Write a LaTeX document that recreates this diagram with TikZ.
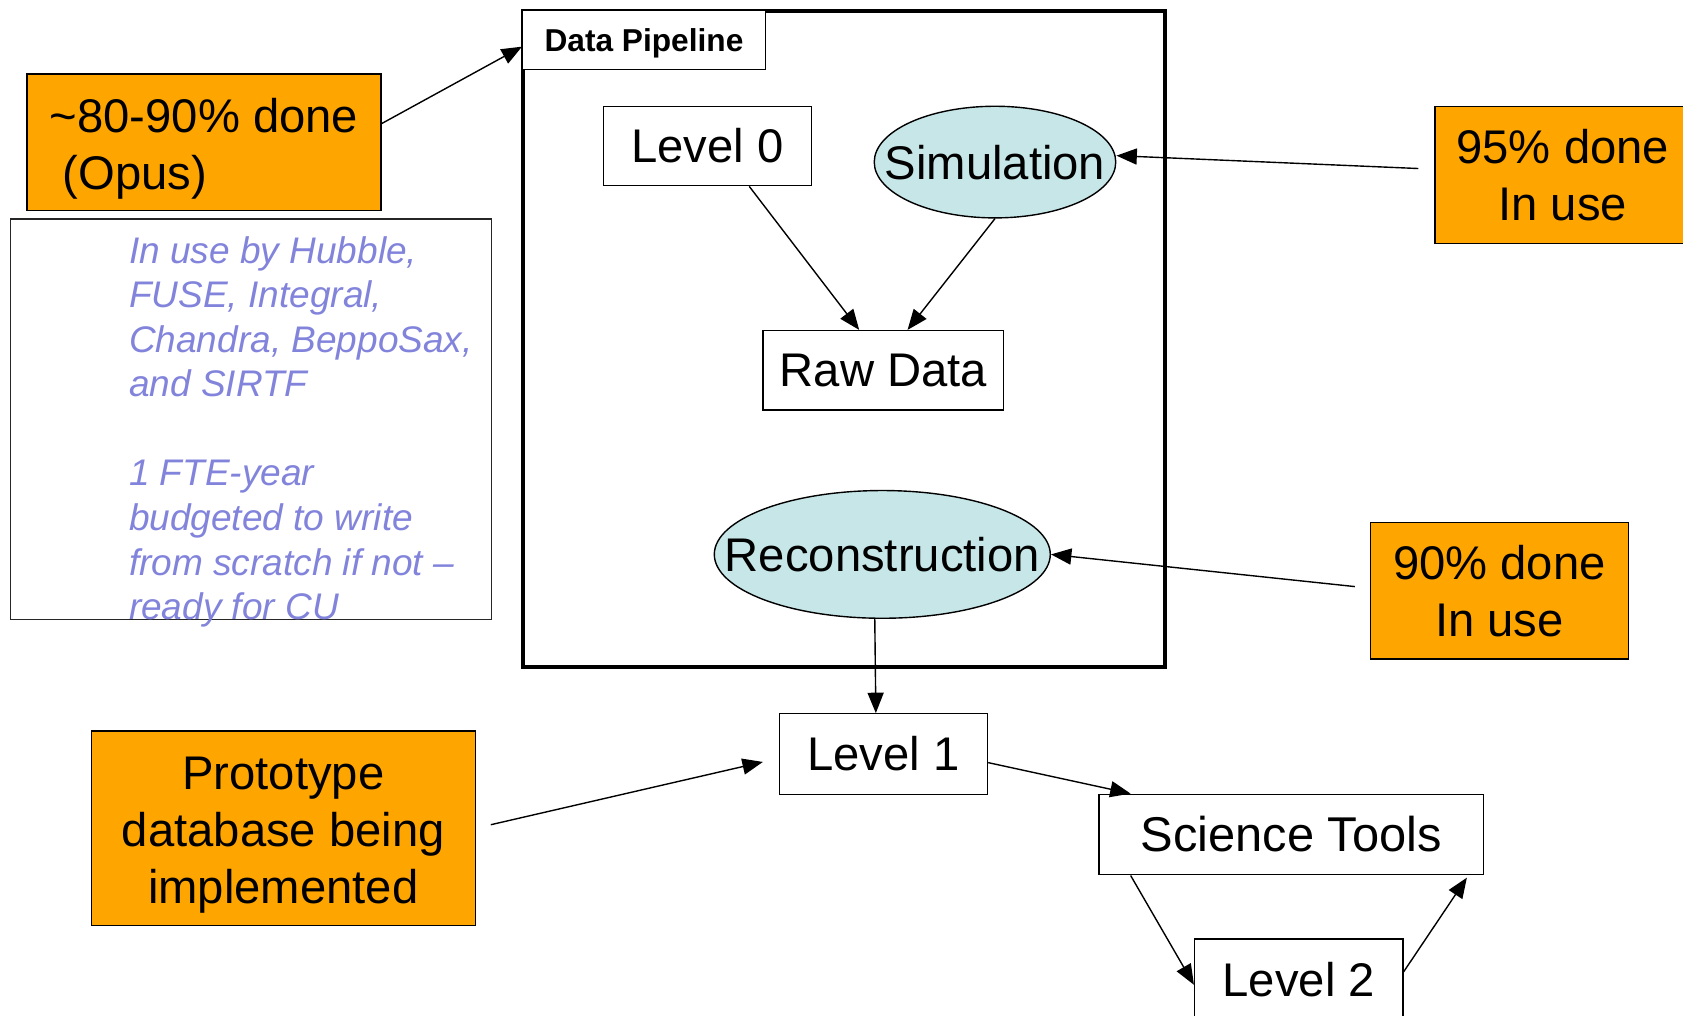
\documentclass[tikz,border=0pt]{standalone}
\usepackage{fontspec}
\setmainfont{Liberation Sans}
\usetikzlibrary{arrows.meta,shapes.geometric,calc}
\pgfdeclarelayer{background}
\pgfsetlayers{background,main}
\definecolor{boxorange}{RGB}{255,165,0}
\definecolor{ellfill}{RGB}{198,230,232}
\definecolor{noteblue}{RGB}{130,132,220}
\newcommand{\elltext}[1]{\makebox[0pt]{\raisebox{-0.36em}[0pt][0pt]{#1}}}
\begin{document}
\begin{tikzpicture}[x=1pt,y=-1pt,
  big/.style={font=\fontsize{44}{53}\selectfont},
  wbox/.style={draw=black, line width=1.3pt, fill=white, inner sep=0pt, big},
  obox/.style={draw=black, line width=1.3pt, fill=boxorange, inner sep=0pt, align=center, big},
  ell/.style={ellipse, draw=black, line width=1.3pt, fill=ellfill, inner sep=0pt, big},
  conn/.style={-{Triangle[length=19pt,width=15pt]}, line width=1.3pt}]
\useasboundingbox (0,0) rectangle (1568,946);
\fill[white] (0,0) rectangle (1568,946);
\begin{pgfonlayer}{background}
\shade[top color={rgb,255:red,125;green,125;blue,125}, bottom color=white] (0,0) rectangle (97,310);
\end{pgfonlayer}

% data pipeline frame
\node[draw=black, line width=3.8pt, minimum width=598pt, minimum height=611pt, inner sep=0pt] (frame) at (786,315.5) {};
\node[draw=black, line width=1.3pt, fill=white, minimum width=226pt, minimum height=55pt, inner sep=0pt, text depth=0pt, font=\fontsize{29.5}{34}\selectfont\bfseries] (dp) at (600,37.5) {Data Pipeline};

% nodes
\node[wbox, minimum width=194pt, minimum height=74pt] (l0) at (659,136) {Level 0};
\node[ell, minimum width=225pt, minimum height=104pt] (sim) at (927,151) {\elltext{Simulation}};
\node[wbox, minimum width=224pt, minimum height=74pt] (rd) at (823,345) {Raw Data};
\node[ell, minimum width=313pt, minimum height=119pt] (rec) at (822,516.5) {\elltext{Reconstruction}};
\node[wbox, minimum width=194pt, minimum height=75pt] (l1) at (823,702.5) {Level 1};
\node[wbox, minimum width=358pt, minimum height=75pt, font=\fontsize{45.5}{53}\selectfont] (st) at (1203,777.5) {Science Tools};
\begin{scope}
\clip (0,0) rectangle (1568,946);
\node[wbox, minimum width=194pt, minimum height=75pt] (l2) at (1210,912.5) {Level 2};
\node[obox, minimum width=238pt, minimum height=128pt] (o95) at (1456,163) {95\% done\\In use};
\end{scope}

% orange notes
\node[obox, align=left, minimum width=330pt, minimum height=127pt] (op) at (190,132.5) {\rule{0pt}{44pt}\textasciitilde80-90\% done\\\hspace*{0.278em}(Opus)};
\node[obox, minimum width=240pt, minimum height=127pt] (o90) at (1397,550.5) {90\% done\\In use};
\node[obox, minimum width=358pt, minimum height=181pt] (proto) at (264,771.5) {\rule{0pt}{43pt}Prototype\\database being\\implemented};

% note box
\node[draw=black!85, line width=1.3pt, minimum width=448pt, minimum height=373pt, inner sep=0pt] (notebox) at (234,390.5) {};
\node[anchor=north west, inner sep=0pt, align=left, text=noteblue, font=\fontsize{34.5}{41.5}\selectfont\itshape] (note) at (120,220) {In use by Hubble,\\FUSE, Integral,\\Chandra, BeppoSax,\\and SIRTF\\[41.5pt]1 FTE-year\\budgeted to write\\from scratch if not --\\ready for CU};

% connectors
\draw[conn] (op.6.7) -- (dp.183);
\draw[conn] ($(l0.south)!0.4!(l0.south east)$) -- ($(rd.north)!0.2!(rd.north west)$);
\draw[conn] (sim.south) -- ($(rd.north)!0.2!(rd.north east)$);
\begin{pgfonlayer}{background}
\draw[conn] ($(rd.south)+(-7,0)$) -- ($(rec.north)+(-7,18)$);
\end{pgfonlayer}
\draw[conn] ($(rec.south)+(-7,0)$) -- ($(l1.north)+(-7,0)$);
\draw[conn] ($(o95.west)+(-15,-6)$) -- ($(sim.east)+(0,-6)$);
\draw[conn] ($(o90.west)+(-14,-4)$) -- (rec.east);
\draw[conn, shorten <=14pt, shorten >=15pt] (proto.east) -- ($(l1.west)+(0,4)$);
\draw[conn] ($(l1.east)+(0,8)$) -- ($(st.north west)+(30,0)$);
\draw[conn] ($(st.south west)+(30,0)$) -- ($(l2.west)+(0,5)$);
\draw[conn] ($(l2.east)+(0,-7)$) -- ($(st.south east)+(-16,2)$);
\end{tikzpicture}
\end{document}
